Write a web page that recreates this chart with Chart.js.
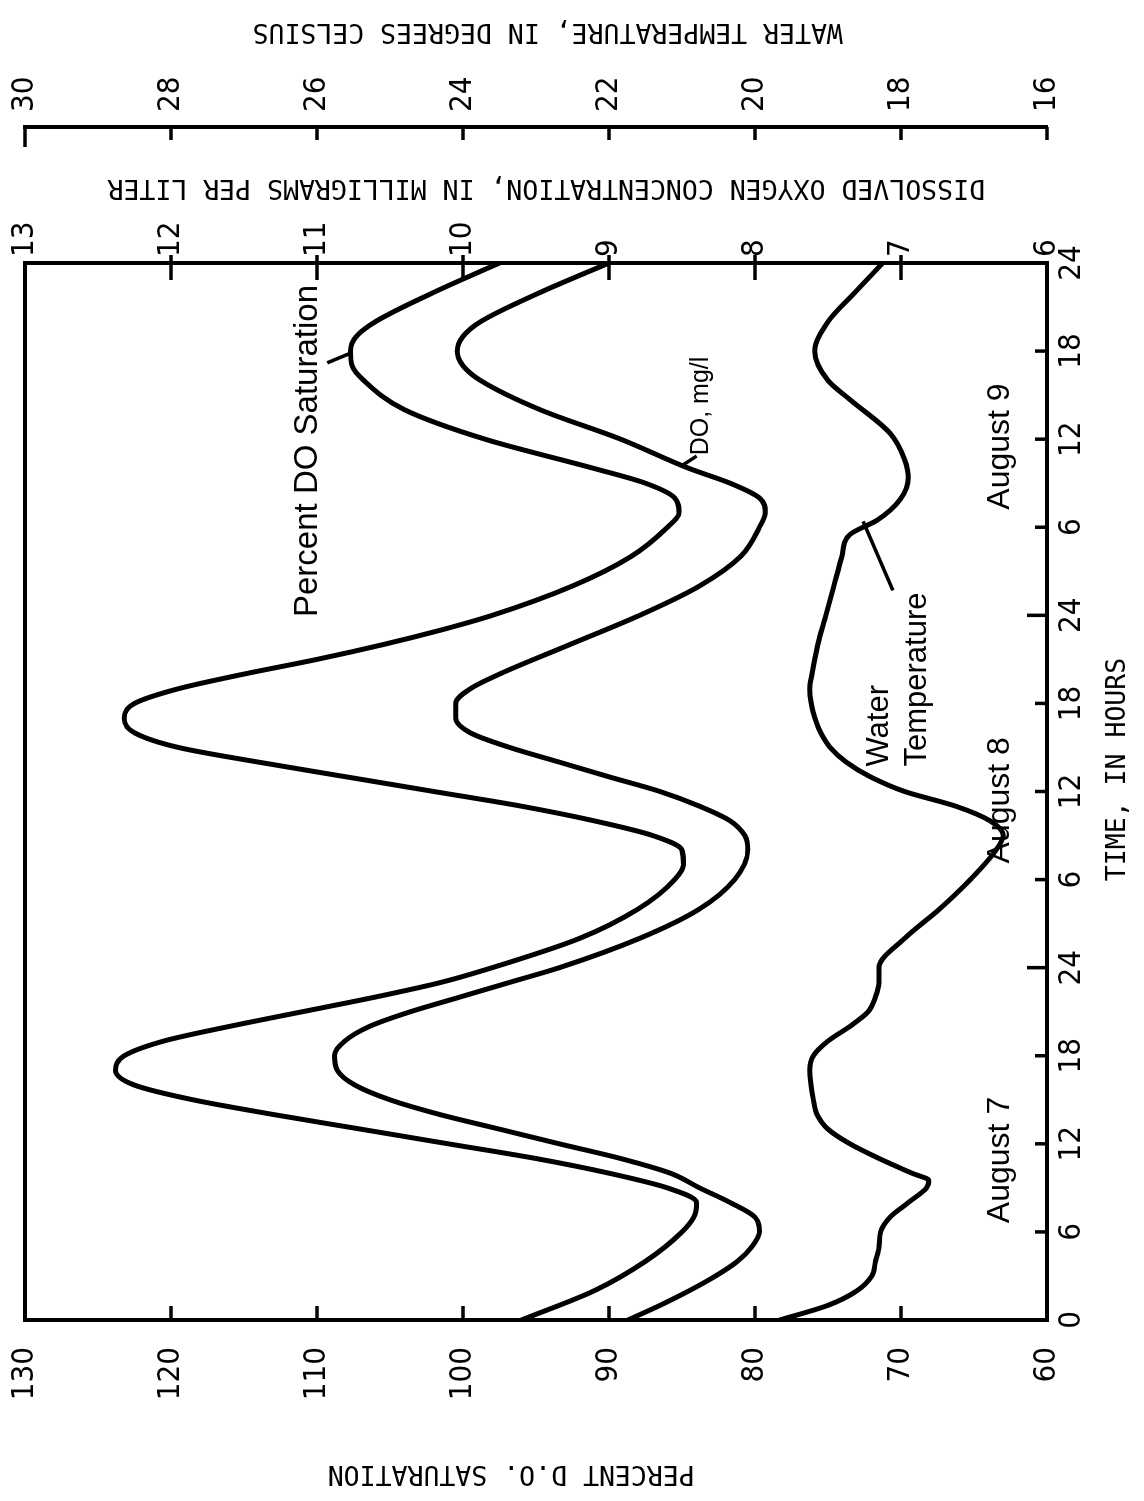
<!DOCTYPE html>
<html><head><meta charset="utf-8">
<script src="https://cdn.jsdelivr.net/npm/chart.js@4.4.1/dist/chart.umd.min.js"></script>
<style>
html,body{margin:0;padding:0;background:#fff;}
#page{position:relative;width:1144px;height:1501px;overflow:hidden;background:#fff;}
#rot{position:absolute;left:0;top:1501px;width:1501px;height:1144px;transform-origin:0 0;transform:rotate(-90deg);}
canvas{display:block;}
</style></head><body>
<div id="page"><div id="rot"><canvas id="c" width="1501" height="1144" style="width:1501px;height:1144px"></canvas></div></div>
<script>
// ---- data (time in hours from midnight Aug 7) ----
const pctHours = [0,2,4,6,7,8,9,10,11,12,13,14,15,16,17,18,19,20,21,22,23,24,26,28,30,31,32,33,34,35,36,37,38,39,40,41,42,43,44,45,46,47,48,50,52,54,55,56,57,58,60,62,64,65,66,67,68,70,72];
const pctSaturation = [96.0,91.0,87.5,85.0,84.2,84.0,86.0,90.0,95.0,101.0,107.0,113.0,118.5,122.5,123.8,123.2,120.5,116.0,111.0,106.0,101.5,98.0,92.0,88.0,85.5,84.9,85.0,87.0,91.0,96.0,102.0,108.0,114.0,119.5,122.5,123.2,122.5,119.5,115.0,110.0,105.5,101.5,98.0,92.5,88.5,86.0,85.2,85.5,87.5,91.0,98.5,104.0,106.8,107.6,107.7,107.3,106.0,102.0,97.5];

const doHours = [0,1,2,3,4,5,6,7,8,9,10,11,12,13,14,15,16,17,18,19,20,21,22,23,24,26,28,30,32,33,34,35,36,37,38,39,40,41,42,43,44,46,48,50,52,54,55,56,57,58,60,62,64,65,66,67,68,70,72];
const doMgL = [8.87,8.65,8.45,8.27,8.12,8.02,7.97,8.0,8.17,8.38,8.58,8.92,9.34,9.75,10.16,10.5,10.74,10.86,10.88,10.81,10.64,10.36,10.02,9.68,9.34,8.79,8.38,8.14,8.05,8.07,8.17,8.38,8.65,9.0,9.34,9.68,9.95,10.05,10.05,9.95,9.75,9.27,8.79,8.38,8.1,7.97,7.93,7.97,8.17,8.45,8.92,9.47,9.88,10.0,10.04,10.0,9.88,9.47,9.0];

const tempHours = [0,1,2,3,4,5,6,7,8,9,9.5,10,11,12,13,14,15,17,18,19,20,21,22,23,24,26,28,30,32,33,34,35,36,37,38,39,40,41,42,43,44,46,48,50,52,53.5,54.5,55.9,57.4,58.6,60.4,62.7,64,66,68,70,72];
const waterTemp = [19.66,19.0,18.6,18.4,18.35,18.3,18.28,18.15,17.9,17.65,17.62,17.85,18.3,18.7,19.0,19.15,19.2,19.25,19.2,19.0,18.7,18.45,18.35,18.3,18.3,17.95,17.47,17.05,16.70,16.60,16.78,17.25,17.95,18.42,18.75,18.97,19.1,19.18,19.23,19.25,19.22,19.14,19.03,18.92,18.81,18.70,18.32,18.01,17.90,17.95,18.15,18.70,19.0,19.18,19.0,18.63,18.25];

const timeTicks = [0,6,12,18,24,30,36,42,48,54,60,66,72];
const timeTickLabels = ['0','6','12','18','24','6','12','18','24','6','12','18','24'];
const pctTicks = [60,70,80,90,100,110,120,130];
const doTicks = [6,7,8,9,10,11,12,13];
const tempTicks = [16,18,20,22,24,26,28,30];
const dayLabels = [{text:'August 7',t:10.9},{text:'August 8',t:35.4},{text:'August 9',t:59.5}];

const NUM = "'Liberation Sans Narrow','DejaVu Sans Condensed','Liberation Sans',sans-serif";
const MONO = "'DejaVu Sans Mono','Liberation Mono',monospace";
const SANS = "'Liberation Sans',Arial,sans-serif";

function pts(xs, ys){ return xs.map((x,i)=>({x:x,y:ys[i]})); }

const decor = {
  id:'decor',
  afterDraw(chart){
    const ctx = chart.ctx, a = chart.chartArea, s = chart.scales;
    const X = s.x, P = s.y, D = s.yDO, T = s.yT;
    ctx.save();
    ctx.strokeStyle = '#000'; ctx.fillStyle = '#000'; ctx.lineCap = 'butt';
    ctx.lineWidth = 4;
    ctx.strokeRect(a.left, a.top, a.right - a.left, a.bottom - a.top);
    ctx.lineWidth = 3.5;
    pctTicks.forEach(v=>{ if(v===60||v===130) return; const y=P.getPixelForValue(v); ctx.beginPath(); ctx.moveTo(a.left,y); ctx.lineTo(a.left+14,y); ctx.stroke(); });
    doTicks.forEach(v=>{ if(v===6||v===13) return; const y=D.getPixelForValue(v); ctx.beginPath(); ctx.moveTo(a.right-17,y); ctx.lineTo(a.right+8,y); ctx.stroke(); });
    const tl = T.left;
    tempTicks.forEach(v=>{ const y=T.getPixelForValue(v); const len = v===30?20:13; ctx.beginPath(); ctx.moveTo(tl-len,y); ctx.lineTo(tl,y); ctx.stroke(); });
    timeTicks.forEach(t=>{ if(t===0||t===72) return; const x=X.getPixelForValue(t); const len=(t%24===0)?20:12; ctx.beginPath(); ctx.moveTo(x,a.bottom); ctx.lineTo(x,a.bottom-len); ctx.stroke(); });

    ctx.font = "26.5px " + MONO; ctx.textBaseline = 'middle'; ctx.textAlign = 'center';
    const rotText = (txt, x, y) => { ctx.save(); ctx.translate(x,y); ctx.rotate(-Math.PI/2); ctx.fillText(txt,0,0); ctx.restore(); };
    rotText('PERCENT D.O. SATURATION', 28, P.getPixelForValue(96.7));
    rotText('DISSOLVED OXYGEN CONCENTRATION, IN MILLIGRAMS PER LITER', 1314, P.getPixelForValue(94.3));
    rotText('WATER TEMPERATURE, IN DEGREES CELSIUS', 1470, P.getPixelForValue(94.2));
    ctx.fillText('TIME, IN HOURS', X.getPixelForValue(37.5), 1118);

    ctx.font = "32px " + SANS;
    dayLabels.forEach(d=>{ ctx.fillText(d.text, X.getPixelForValue(d.t), 1000); });

    ctx.font = "33px " + SANS; ctx.textAlign = 'right';
    ctx.fillText('Percent DO Saturation', X.getPixelForValue(70.5), P.getPixelForValue(110.6));
    ctx.font = "25px " + SANS; ctx.textAlign = 'left';
    ctx.fillText('DO, mg/l', X.getPixelForValue(58.9), D.getPixelForValue(8.37));
    ctx.font = "31px " + SANS;
    ctx.fillText('Water', X.getPixelForValue(37.7), T.getPixelForValue(18.3));
    ctx.fillText('Temperature', X.getPixelForValue(37.7), T.getPixelForValue(17.77));
    ctx.lineWidth = 3.5;
    const seg = (t1,y1,t2,y2,sc)=>{ ctx.beginPath(); ctx.moveTo(X.getPixelForValue(t1), sc.getPixelForValue(y1)); ctx.lineTo(X.getPixelForValue(t2), sc.getPixelForValue(y2)); ctx.stroke(); };
    seg(65.2,109.3,65.9,107.6,P);
    seg(58.2,8.5,58.85,8.4,D);
    seg(49.7,18.11,54.4,18.52,T);
    ctx.restore();
  }
};

const noPad = (sc)=>{ sc.paddingTop = 0; sc.paddingBottom = 0; sc.paddingLeft = 0; sc.paddingRight = 0; };
const tickFont = {family:NUM, size:31};
new Chart(document.getElementById('c'), {
  type:'line',
  data:{ datasets:[
    {label:'Percent DO Saturation', data:pts(pctHours,pctSaturation), yAxisID:'y'},
    {label:'DO, mg/l', data:pts(doHours,doMgL), yAxisID:'yDO'},
    {label:'Water Temperature', data:pts(tempHours,waterTemp), yAxisID:'yT'}
  ]},
  options:{
    responsive:false, animation:false, devicePixelRatio:1,
    layout:{padding:{top:25,left:0,right:0,bottom:0}},
    plugins:{legend:{display:false}, tooltip:{enabled:false}},
    elements:{point:{radius:0}, line:{borderColor:'#000', borderWidth:5, tension:0.4, cubicInterpolationMode:'monotone', fill:false, borderCapStyle:'round', borderJoinStyle:'round'}},
    scales:{
      x:{type:'linear', position:'bottom', min:0, max:72,
         grid:{display:false, drawTicks:false}, border:{display:false},
         afterBuildTicks:(sc)=>{ sc.ticks = timeTicks.map(v=>({value:v})); },
         ticks:{color:'#000', font:tickFont, padding:6, maxRotation:0, autoSkip:false,
                callback:(v)=>{ const i=timeTicks.indexOf(v); return i<0?'':timeTickLabels[i]; }},
         afterFit:(sc)=>{ sc.height = 97; noPad(sc); }},
      y:{type:'linear', position:'left', min:60, max:130,
         grid:{display:false, drawTicks:false}, border:{display:false},
         afterBuildTicks:(sc)=>{ sc.ticks = pctTicks.map(v=>({value:v})); },
         ticks:{color:'#000', font:tickFont, padding:27},
         afterFit:(sc)=>{ sc.width = 181; noPad(sc); }},
      yDO:{type:'linear', position:'right', min:6, max:13, weight:0,
         grid:{display:false, drawTicks:false}, border:{display:false},
         afterBuildTicks:(sc)=>{ sc.ticks = doTicks.map(v=>({value:v})); },
         ticks:{color:'#000', font:tickFont, padding:6},
         afterFit:(sc)=>{ sc.width = 136; noPad(sc); }},
      yT:{type:'linear', position:'right', min:16, max:30, weight:1,
         grid:{display:false, drawTicks:false}, border:{display:true, color:'#000', width:4},
         afterBuildTicks:(sc)=>{ sc.ticks = tempTicks.map(v=>({value:v})); },
         ticks:{color:'#000', font:tickFont, padding:15},
         afterFit:(sc)=>{ sc.width = 127; noPad(sc); }}
    }
  },
  plugins:[decor]
});
</script>
</body></html>
